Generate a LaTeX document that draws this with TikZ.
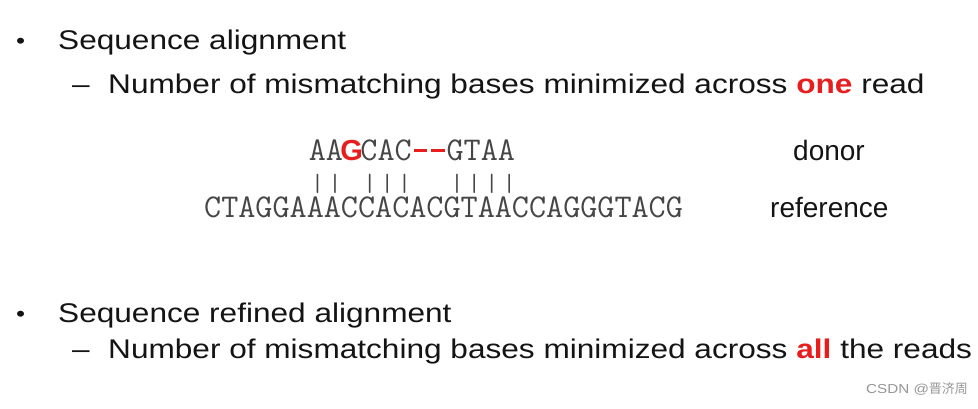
\documentclass[tikz,border=0pt]{standalone}
\usepackage{fontspec}
\setmainfont{Liberation Sans}[FakeStretch=1.17]
\newfontfamily\labelf{Liberation Sans}
\newfontfamily\boldsans{Liberation Sans Bold}
\newfontfamily\cjk{Noto Sans CJK SC}
\definecolor{hired}{RGB}{232,30,30}
\definecolor{txt}{RGB}{20,20,20}
\definecolor{seq}{RGB}{70,70,70}
\definecolor{wmgray}{RGB}{150,150,150}
\tikzset{
  bodytext/.style={anchor=base west, inner sep=0pt, text=txt, font=\fontsize{27}{30}\selectfont},
  labeltext/.style={anchor=base west, inner sep=0pt, text=txt, font=\labelf\fontsize{28}{30}\selectfont},
  seqtext/.style={anchor=base west, inner sep=0pt, text=seq, font=\ttfamily\fontsize{33.2}{34}\selectfont},
  bartext/.style={anchor=base west, inner sep=0pt, text=seq, font=\ttfamily\fontsize{25}{26}\selectfont},
  wmtext/.style={anchor=base west, inner sep=0pt, text=wmgray, font=\fontsize{13}{15}\selectfont},
}
\newcommand{\hl}[1]{\textcolor{hired}{\textbf{#1}}}
\newcommand{\cell}[1]{\makebox[17.43pt]{#1}}
\newcommand{\gapdash}{\cell{\textcolor{hired}{\rule[8pt]{13.5pt}{3pt}}}}
\begin{document}
\begin{tikzpicture}[x=1pt,y=-1pt]
\useasboundingbox (0,0) rectangle (978,408);
\fill[white] (0,0) rectangle (978,408);
% first bullet
\node[bodytext,font=\fontsize{22}{24}\selectfont] (b1) at (16,48) {\textbullet};
\node[bodytext] (t1) at (58,49) {Sequence alignment};
\node[bodytext] (d1) at (72,93) {--};
\node[bodytext] (t2) at (108,93) {Number of mismatching bases minimized across \hl{one} read};
% alignment
\node[seqtext] (donor) at (308.6,160) {AA\cell{\boldsans\fontsize{29}{30}\selectfont\textcolor{hired}{G}}CAC\gapdash\gapdash GTAA};
\node[bartext] (bars) at (308.6,191) {\cell{|}\cell{|}\cell{}\cell{|}\cell{|}\cell{|}\cell{}\cell{}\cell{|}\cell{|}\cell{|}\cell{|}};
\node[seqtext] (ref) at (204,217) {CTAGGAAACCACACGTAACCAGGGTACG};
\node[labeltext] (donorlbl) at (793,160) {donor};
\node[labeltext] (reflbl) at (770,217) {reference};
% second bullet
\node[bodytext,font=\fontsize{22}{24}\selectfont] (b2) at (16,321) {\textbullet};
\node[bodytext] (t3) at (58,322) {Sequence refined alignment};
\node[bodytext] (d2) at (72,358) {--};
\node[bodytext] (t4) at (108,358) {Number of mismatching bases minimized across \hl{all} the reads};
% watermark
\node[wmtext] (wm) at (866,393) {CSDN @{\cjk 晋济周}};
\end{tikzpicture}
\end{document}
